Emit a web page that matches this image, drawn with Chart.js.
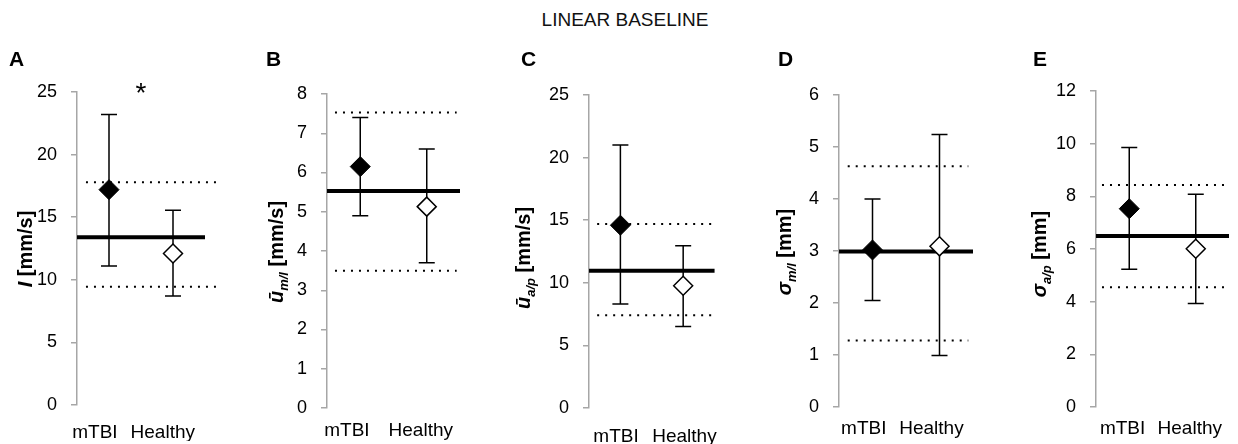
<!DOCTYPE html>
<html>
<head>
<meta charset="utf-8">
<script src="https://cdn.jsdelivr.net/npm/chart.js@4.4.1/dist/chart.umd.min.js"></script>
<style>
body { margin: 0; width: 1238px; height: 444px; background: #fff; position: relative; overflow: hidden; font-family: "Liberation Sans", Arial, sans-serif; color: #000; }
canvas { position: absolute; top: 0; }
.title { position: absolute; left: 0; width: 1250px; top: 9px; text-align: center; font-size: 19px; color: #111; }
.letter { position: absolute; top: 47px; font-size: 21px; font-weight: bold; line-height: 24px; }
.ytitle { position: absolute; white-space: nowrap; font-weight: bold; font-size: 20px; line-height: 24px; transform: translate(-50%, -50%) rotate(-90deg); }
.ytitle sub { font-size: 13px; font-style: italic; }
</style>
</head>
<body>
<div class="title">LINEAR BASELINE</div>
<script>
const groups = ["mTBI", "Healthy"];
const letters = ["A", "B", "C", "D", "E"];

// y axis titles: symbol, subscript, unit
const ySymbol = ["I", "ū", "ū", "σ", "σ"];
const ySub = ["", "m/l", "a/p", "m/l", "a/p"];
const yUnit = ["[mm/s]", "[mm/s]", "[mm/s]", "[mm]", "[mm]"];

// y scales
const yMax = [25, 8, 25, 6, 12];
const yStep = [5, 1, 5, 1, 2];

// group means and error bar ends
const mtbiMean = [17.2, 6.15, 14.6, 3.02, 7.53];
const mtbiHigh = [23.2, 7.4, 21.0, 4.0, 9.85];
const mtbiLow = [11.1, 4.9, 8.3, 2.05, 5.23];
const healthyMean = [12.1, 5.13, 9.76, 3.09, 6.01];
const healthyHigh = [15.55, 6.6, 12.95, 5.24, 8.08];
const healthyLow = [8.7, 3.7, 6.5, 0.99, 3.93];

// linear baseline with its band
const baseline = [13.4, 5.53, 10.96, 2.99, 6.49];
const bandHigh = [17.8, 7.53, 14.7, 4.63, 8.43];
const bandLow = [9.45, 3.5, 7.4, 1.28, 4.55];

// significance mark per panel
const sigMark = ["*", "", "", "", ""];

// layout of each panel (pixels / axis units)
const panels = [
	{ ax: 77, right: 205, top: 92, bottom: 405, labPad: 16, labPos: [-0.22, 0.84], dot: [-0.36, 1.69], letterX: 9, titleX: 25, titleY: 249 },
	{ ax: 327, right: 460, top: 94, bottom: 408, labPad: 11, labPos: [-0.2, 0.91], dot: [-0.38, 1.45], letterX: 266, titleX: 280, titleY: 252 },
	{ ax: 589, right: 723, top: 95, bottom: 408, labPad: 17, labPos: [-0.07, 1.02], dot: [-0.37, 1.49], letterX: 521, titleX: 527, titleY: 258 },
	{ ax: 839, right: 973, top: 95, bottom: 407, labPad: 10, labPos: [-0.13, 0.88], dot: [-0.37, 1.43], letterX: 778, titleX: 788, titleY: 252 },
	{ ax: 1096, right: 1229, top: 91, bottom: 407, labPad: 10, labPos: [-0.1, 0.91], dot: [-0.41, 1.5], letterX: 1033, titleX: 1043, titleY: 254 }
];

const FONT = "'Liberation Sans', Arial, sans-serif";
const W_Y = 60;
const PAD_R = 14;
const H_X = 36;

function makeTitle(i, p) {
	let d = document.createElement("div");
	d.className = "ytitle";
	d.style.left = p.titleX + "px";
	d.style.top = p.titleY + "px";
	let sym = document.createElement("i");
	sym.textContent = ySymbol[i];
	d.appendChild(sym);
	if (ySub[i]) {
		let s = document.createElement("sub");
		s.textContent = ySub[i];
		d.appendChild(s);
	}
	d.appendChild(document.createTextNode(" " + yUnit[i]));
	document.body.appendChild(d);

	let l = document.createElement("div");
	l.className = "letter";
	l.style.left = p.letterX + "px";
	l.textContent = letters[i];
	document.body.appendChild(l);
}

function makePanel(i, p) {
	let cv = document.createElement("canvas");
	let w = W_Y + (p.right - p.ax) + PAD_R;
	cv.width = w;
	cv.height = 444;
	cv.style.left = (p.ax - W_Y) + "px";
	cv.style.width = w + "px";
	cv.style.height = "444px";
	document.body.appendChild(cv);

	let errorBars = {
		id: "errorBars" + i,
		beforeDatasetsDraw(chart) {
			let ctx = chart.ctx, xs = chart.scales.x, ys = chart.scales.y;
			ctx.save();
			ctx.strokeStyle = "#000";
			ctx.lineWidth = 1.5;
			[[mtbiLow[i], mtbiHigh[i]], [healthyLow[i], healthyHigh[i]]].forEach((r, k) => {
				let x = xs.getPixelForValue(k);
				let y0 = ys.getPixelForValue(r[0]);
				let y1 = ys.getPixelForValue(r[1]);
				ctx.beginPath();
				ctx.moveTo(x, y0); ctx.lineTo(x, y1);
				ctx.moveTo(x - 8, y0); ctx.lineTo(x + 8, y0);
				ctx.moveTo(x - 8, y1); ctx.lineTo(x + 8, y1);
				ctx.stroke();
			});
			ctx.restore();
		},
		afterDraw(chart) {
			if (!sigMark[i]) return;
			let ctx = chart.ctx;
			ctx.save();
			ctx.fillStyle = "#000";
			ctx.font = "28px " + FONT;
			ctx.textAlign = "center";
			ctx.textBaseline = "alphabetic";
			ctx.fillText(sigMark[i], chart.scales.x.getPixelForValue(0.5), chart.chartArea.top + 10);
			ctx.restore();
		}
	};

	new Chart(cv, {
		type: "scatter",
		data: {
			datasets: [
				{
					data: [{ x: 0, y: mtbiMean[i] }, { x: 1, y: healthyMean[i] }],
					pointStyle: "rectRot",
					pointRadius: [10, 9.5],
					pointHoverRadius: [10, 9.5],
					pointBackgroundColor: ["#000", "#fff"],
					pointBorderColor: "#000",
					pointBorderWidth: [1, 1.5],
					showLine: false,
					clip: false
				},
				{
					type: "line",
					data: [{ x: -0.5, y: baseline[i] }, { x: 1.5, y: baseline[i] }],
					borderColor: "#000", borderWidth: 4, pointRadius: 0, clip: false
				},
				{
					type: "line",
					data: [{ x: p.dot[0], y: bandHigh[i] }, { x: p.dot[1], y: bandHigh[i] }],
					borderColor: "#000", borderWidth: 2, borderDash: [2, 6], pointRadius: 0, clip: false
				},
				{
					type: "line",
					data: [{ x: p.dot[0], y: bandLow[i] }, { x: p.dot[1], y: bandLow[i] }],
					borderColor: "#000", borderWidth: 2, borderDash: [2, 6], pointRadius: 0, clip: false
				}
			]
		},
		options: {
			responsive: false,
			animation: false,
			events: [],
			layout: { padding: { top: p.top, bottom: Math.max(0, 444 - p.bottom - H_X), left: 0, right: PAD_R } },
			plugins: { legend: { display: false }, tooltip: { enabled: false } },
			scales: {
				x: {
					type: "linear", min: -0.5, max: 1.5,
					afterBuildTicks: s => { s.ticks = p.labPos.map(v => ({ value: v })); },
					afterFit: s => { s.height = 444 - p.bottom - Math.max(0, 444 - p.bottom - H_X); },
					ticks: {
						callback: (v, idx) => groups[idx],
						font: { size: 19, family: FONT }, color: "#000",
						padding: p.labPad, maxRotation: 0, autoSkip: false
					},
					grid: { display: false, drawTicks: false },
					border: { display: false }
				},
				y: {
					min: 0, max: yMax[i],
					afterFit: s => { s.width = W_Y; },
					ticks: { stepSize: yStep[i], font: { size: 18, family: FONT }, color: "#000", padding: 14 },
					grid: { drawOnChartArea: false, drawTicks: true, tickLength: 6, color: "#a6a6a6", lineWidth: 1.5 },
					border: { color: "#a6a6a6", width: 1.5 }
				}
			}
		},
		plugins: [errorBars]
	});
}

panels.forEach((p, i) => makePanel(i, p));
panels.forEach((p, i) => makeTitle(i, p));
</script>
</body>
</html>
